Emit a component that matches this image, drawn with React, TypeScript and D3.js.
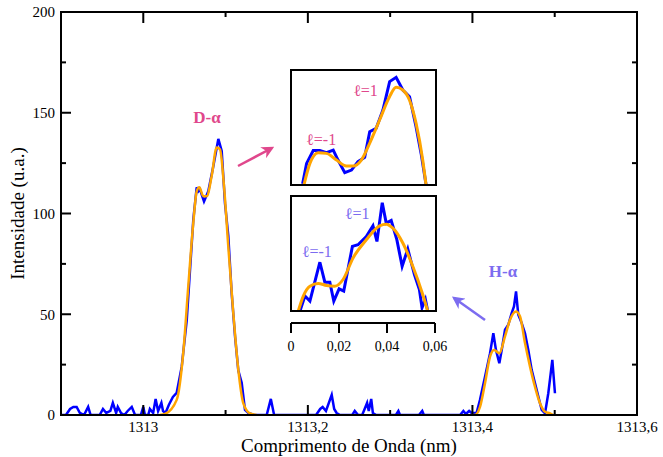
import React from "react";
import * as d3 from "d3";

// Measured spectrum: wavelength (nm) and intensity (u.a.)
const spectrumWavelength = [
  1312.9, 1312.906, 1312.911, 1312.915, 1312.919, 1312.923, 1312.928, 1312.933, 1312.936, 1312.947,
  1312.951, 1312.955, 1312.96, 1312.963, 1312.967, 1312.969, 1312.973, 1312.977, 1312.981, 1312.986,
  1312.99, 1312.997, 1313.0, 1313.002, 1313.006, 1313.008, 1313.012, 1313.015, 1313.018, 1313.022,
  1313.024, 1313.027, 1313.031, 1313.036, 1313.0406, 1313.0467, 1313.0528, 1313.0568, 1313.0608, 1313.0649,
  1313.0669, 1313.0689, 1313.0738, 1313.079, 1313.0851, 1313.0912, 1313.0953, 1313.0993, 1313.1033, 1313.1074,
  1313.1115, 1313.1155, 1313.1196, 1313.1236, 1313.1276, 1313.135, 1313.15, 1313.155, 1313.159, 1313.21,
  1313.215, 1313.218, 1313.222, 1313.229, 1313.232, 1313.235, 1313.239, 1313.254, 1313.257, 1313.261,
  1313.266, 1313.269, 1313.272, 1313.274, 1313.277, 1313.279, 1313.283, 1313.307, 1313.31, 1313.312,
  1313.335, 1313.339, 1313.341, 1313.385, 1313.389, 1313.392, 1313.396, 1313.399, 1313.405, 1313.4092,
  1313.4153, 1313.4214, 1313.4254, 1313.4286, 1313.4327, 1313.4356, 1313.4396, 1313.4436, 1313.4477, 1313.4505,
  1313.453, 1313.4557, 1313.4599, 1313.4639, 1313.4679, 1313.472, 1313.476, 1313.4801, 1313.4842, 1313.4882,
  1313.4922, 1313.4971, 1313.5003,
];
const spectrumIntensity = [
  0, 0, 3, 4, 4, 1, 0, 4, 0, 0,
  3, 1, 2, 6, 1, 4, 1, 0, 2, 4,
  0, 0, 4, 0, 0, 3, 1, 8, 2, 6,
  2, 1, 5, 9, 11, 24, 47, 72, 97, 113,
  111, 112, 106, 111, 123.5, 137, 131, 105, 89, 60.5,
  39, 22, 16, 2.5, 1, 0, 0, 8, 0, 0,
  3, 4, 2, 10, 3, 1, 0, 0, 2, 0,
  0, 3, 6, 2, 8, 1, 0, 0, 2, 0,
  0, 2, 0, 0, 2, 0.5, 2, 1, 1, 7.5,
  19, 30.7, 40.6, 32.3, 25.7, 32.3, 42.3, 44.8, 50.6, 53.9,
  61.3, 49.8, 45.6, 40.6, 32.3, 22.4, 15.8, 9.1, 2.5, 0.8,
  10.8, 27.4, 10.8,
];

// Fitted profile, D-alpha line
const fitDWavelength = [
  1313.02, 1313.0264, 1313.0406, 1313.0486, 1313.0547, 1313.0608, 1313.0649, 1313.0681, 1313.0729, 1313.0771,
  1313.0831, 1313.0892, 1313.0932, 1313.0981, 1313.1033, 1313.1094, 1313.1155, 1313.1216, 1313.1297, 1313.1378,
];
const fitDIntensity = [
  0, 0.5, 7.5, 31, 64, 95.5, 111, 113, 108.6, 108.6,
  118.6, 132.7, 131.8, 113.6, 83.7, 50.6, 22.4, 5.8, 0.8, 0,
];

// Fitted profile, H-alpha line
const fitHWavelength = [
  1313.398, 1313.4031, 1313.4092, 1313.4153, 1313.4214, 1313.4262, 1313.4327, 1313.4396, 1313.4457, 1313.453,
  1313.4578, 1313.4639, 1313.47, 1313.476, 1313.4821, 1313.4882, 1313.4943, 1313.4983,
];
const fitHIntensity = [
  0, 0, 4, 15.8, 29, 32.3, 30.7, 39, 47.3, 51.4,
  49, 35.7, 24, 14, 5.8, 1.6, 0.8, 0,
];

// Inset (D-alpha), relative offset (nm) vs normalised intensity
const insetDDataX = [
  0.00484, 0.0065, 0.00926, 0.012, 0.0148, 0.0176, 0.0196, 0.0224, 0.0252, 0.0279,
  0.0307, 0.0328, 0.0355, 0.0383, 0.0411, 0.0438, 0.0466, 0.0494, 0.0521, 0.0542, 0.0563,
];
const insetDDataY = [
  1, 18.8, 29.9, 29.9, 28.1, 30.4, 21.7, 10.7, 13, 20.3,
  24, 46.4, 49.3, 65.2, 89.9, 93.6, 82.6, 76.8, 50.7, 27.5, 0,
];
const insetDFitX = [
  0.00539, 0.00788, 0.01134, 0.01479, 0.01894, 0.02309, 0.02585, 0.02931, 0.03276, 0.03691,
  0.04106, 0.04382, 0.04659, 0.04935, 0.05212, 0.05488, 0.05627,
];
const insetDFitY = [
  0, 18.8, 28.1, 27.5, 21.7, 16.5, 16.5, 21.7, 36.2, 56.5,
  76.8, 84.9, 82.6, 73.9, 53.6, 21.7, 0,
];

// Inset (H-alpha)
const insetHDataX = [
  0.00373, 0.0058, 0.00788, 0.01203, 0.0141, 0.01618, 0.01783, 0.02005, 0.02198, 0.02558,
  0.02793, 0.03138, 0.03415, 0.03581, 0.03802, 0.03968, 0.04175, 0.0441, 0.04631, 0.04866,
  0.05143, 0.0535, 0.0546, 0.05599, 0.05696,
];
const insetHDataY = [
  0, 13, 8.6, 42.4, 25.1, 25.1, 8.6, 19.3, 17.3, 56.2,
  57.6, 64.8, 74.1, 60.5, 94.2, 76.4, 78.7, 62, 38.9, 53.9,
  31.7, 18.7, 2.9, 10.1, 0,
];
const insetHFitX = [
  0.00304, 0.00512, 0.00788, 0.01134, 0.01479, 0.01825, 0.0217, 0.02585, 0.03138, 0.03691,
  0.03968, 0.04244, 0.04659, 0.05074, 0.05488, 0.05696,
];
const insetHFitY = [
  0, 13, 21.6, 23.9, 22.2, 21.6, 27.4, 46.1, 62, 74.1,
  75.5, 72, 59.1, 38.9, 14.4, 0,
];

const yMajorTicks = [0, 50, 100, 150, 200];
const yMinorTicks = [25, 75, 125, 175];
const xMajorTicks = [1313, 1313.2, 1313.4, 1313.6];
const xMinorTicks = [1313.1, 1313.3, 1313.5];
const insetTicks = [0, 0.02, 0.04, 0.06];

const PINK = "#e0478c";
const VIOLET = "#7c6cf0";
const BLUE = "#0000ff";
const ORANGE = "#ffa500";
const FONT = "Liberation Serif, Times New Roman, DejaVu Serif, serif";

const zip = (xs: number[], ys: number[]) => xs.map((x, i) => [x, ys[i]] as [number, number]);
const comma = (v: number) => String(v).replace(".", ",");

function Inset({ id, top, dx, dy, fx, fy, color, labels }: any) {
  const left = 291, right = 436, bottom = top + 115;
  const x = d3.scaleLinear().domain([0, 0.06]).range([left, right - 1]);
  const y = d3.scaleLinear().domain([0, 100]).range([bottom, top]);
  const raw = d3.line<[number, number]>().x(d => x(d[0])).y(d => y(d[1]));
  const smooth = d3.line<[number, number]>().x(d => x(d[0])).y(d => y(d[1])).curve(d3.curveMonotoneX);
  return (
    <g>
      <clipPath id={id}><rect x={left} y={top} width={right - left} height={bottom - top} /></clipPath>
      <rect x={left} y={top} width={right - left} height={bottom - top} fill="#fff" />
      <g clipPath={`url(#${id})`}>
        <path d={raw(zip(dx, dy)) || ""} fill="none" stroke={BLUE} strokeWidth={3} strokeLinejoin="miter" />
        <path d={smooth(zip(fx, fy)) || ""} fill="none" stroke={ORANGE} strokeWidth={3} />
      </g>
      <rect x={left} y={top} width={right - left} height={bottom - top} fill="none" stroke="#000" strokeWidth={2} />
      {labels.map((l: any, i: number) => (
        <text key={i} x={x(l.at[0])} y={y(l.at[1])} fill={color} style={{ fontFamily: FONT }} fontSize={16}>{l.text}</text>
      ))}
    </g>
  );
}

export default function App() {
  const margin = { left: 61, right: 637, top: 12, bottom: 415 };
  const x = d3.scaleLinear().domain([1312.9, 1313.6]).range([margin.left, margin.right]);
  const y = d3.scaleLinear().domain([0, 200]).range([margin.bottom, margin.top]);
  const raw = d3.line<[number, number]>().x(d => x(d[0])).y(d => y(d[1]));
  const smooth = d3.line<[number, number]>().x(d => x(d[0])).y(d => y(d[1])).curve(d3.curveMonotoneX);

  const ix = d3.scaleLinear().domain([0, 0.06]).range([291, 435]);
  const axisY = 323;
  const txt = { fontFamily: FONT };

  return (
    <svg width={663} height={457} style={{ position: "absolute", left: 0, top: 0, background: "#fff" }}>
      <defs>
        <clipPath id="plot"><rect x={margin.left} y={margin.top} width={margin.right - margin.left} height={margin.bottom - margin.top} /></clipPath>
        <marker id="headPink" viewBox="0 0 10 10" refX="8" refY="5" markerWidth="5" markerHeight="5" orient="auto">
          <path d="M0,0 L10,5 L0,10 L3,5 Z" fill={PINK} />
        </marker>
        <marker id="headViolet" viewBox="0 0 10 10" refX="8" refY="5" markerWidth="5" markerHeight="5" orient="auto">
          <path d="M0,0 L10,5 L0,10 L3,5 Z" fill={VIOLET} />
        </marker>
      </defs>

      <g clipPath="url(#plot)">
        <path d={raw(zip(spectrumWavelength, spectrumIntensity)) || ""} fill="none" stroke={BLUE} strokeWidth={2.5} />
        <path d={smooth(zip(fitDWavelength, fitDIntensity)) || ""} fill="none" stroke={ORANGE} strokeWidth={2.5} />
        <path d={smooth(zip(fitHWavelength, fitHIntensity)) || ""} fill="none" stroke={ORANGE} strokeWidth={2.5} />
      </g>

      {/* frame */}
      <rect x={margin.left} y={margin.top} width={margin.right - margin.left} height={margin.bottom - margin.top} fill="none" stroke="#000" strokeWidth={2} />

      {/* x ticks (bottom and top, inward) */}
      {xMajorTicks.map(t => (
        <g key={`xM${t}`}>
          <line x1={x(t)} x2={x(t)} y1={margin.bottom} y2={margin.bottom - 10} stroke="#000" strokeWidth={2} />
          <line x1={x(t)} x2={x(t)} y1={margin.top} y2={margin.top + 11} stroke="#000" strokeWidth={2} />
          <text x={x(t)} y={432} textAnchor="middle" style={txt} fontSize={15}>{comma(t)}</text>
        </g>
      ))}
      {xMinorTicks.map(t => (
        <g key={`xm${t}`}>
          <line x1={x(t)} x2={x(t)} y1={margin.bottom} y2={margin.bottom - 5} stroke="#000" strokeWidth={2} />
          <line x1={x(t)} x2={x(t)} y1={margin.top} y2={margin.top + 5} stroke="#000" strokeWidth={2} />
        </g>
      ))}

      {/* y ticks (left and right, inward) */}
      {yMajorTicks.map(t => (
        <g key={`yM${t}`}>
          <line x1={margin.left} x2={margin.left + 10} y1={y(t)} y2={y(t)} stroke="#000" strokeWidth={2} />
          <line x1={margin.right} x2={margin.right - 10} y1={y(t)} y2={y(t)} stroke="#000" strokeWidth={2} />
          <text x={55} y={y(t)} dy="0.35em" textAnchor="end" style={txt} fontSize={15}>{t}</text>
        </g>
      ))}
      {yMinorTicks.map(t => (
        <g key={`ym${t}`}>
          <line x1={margin.left} x2={margin.left + 5} y1={y(t)} y2={y(t)} stroke="#000" strokeWidth={2} />
          <line x1={margin.right} x2={margin.right - 5} y1={y(t)} y2={y(t)} stroke="#000" strokeWidth={2} />
        </g>
      ))}

      <text x={349} y={452} textAnchor="middle" style={txt} fontSize={19}>Comprimento de Onda (nm)</text>
      <text transform={`translate(24, ${(margin.top + margin.bottom) / 2}) rotate(-90)`} textAnchor="middle" style={txt} fontSize={19}>Intensidade (u.a.)</text>

      {/* line labels and pointers */}
      <text x={207} y={123} textAnchor="middle" style={txt} fontSize={17} fontWeight="bold" fill={PINK}>D-α</text>
      <text x={503} y={277} textAnchor="middle" style={txt} fontSize={17} fontWeight="bold" fill={VIOLET}>H-α</text>
      <line x1={238} y1={166} x2={272} y2={148} stroke={PINK} strokeWidth={2.5} markerEnd="url(#headPink)" />
      <line x1={485} y1={320} x2={454} y2={298} stroke={VIOLET} strokeWidth={2.5} markerEnd="url(#headViolet)" />

      <Inset id="insetD" top={70} dx={insetDDataX} dy={insetDDataY} fx={insetDFitX} fy={insetDFitY} color={PINK}
        labels={[{ text: "ℓ=1", at: [0.0259, 77] }, { text: "ℓ=-1", at: [0.0063, 35] }]} />
      <Inset id="insetH" top={196} dx={insetHDataX} dy={insetHDataY} fx={insetHFitX} fy={insetHFitY} color={VIOLET}
        labels={[{ text: "ℓ=1", at: [0.0224, 80] }, { text: "ℓ=-1", at: [0.0045, 47] }]} />

      {/* inset offset axis */}
      <line x1={ix(0)} x2={ix(0.06)} y1={axisY} y2={axisY} stroke="#000" strokeWidth={2} />
      {insetTicks.map(t => (
        <g key={`it${t}`}>
          <line x1={ix(t)} x2={ix(t)} y1={axisY} y2={axisY + 10} stroke="#000" strokeWidth={2} />
          <text x={ix(t)} y={351} textAnchor="middle" style={txt} fontSize={14}>{comma(t)}</text>
        </g>
      ))}
    </svg>
  );
}
